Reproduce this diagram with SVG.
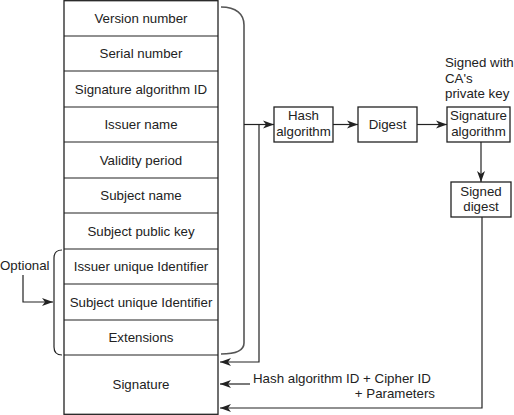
<svg xmlns="http://www.w3.org/2000/svg" width="514" height="415" viewBox="0 0 514 415">
<defs>
<marker id="arr" markerUnits="userSpaceOnUse" markerWidth="12" markerHeight="10" viewBox="0 0 12 10" refX="11" refY="5" orient="auto">
<path d="M0,1 L11,5 L0,9 L3,5 Z" fill="#222"/>
</marker>
</defs>
<style>
text{font-family:"Liberation Sans",Arial,sans-serif;font-size:13.3px;fill:#222}
.c{text-anchor:middle}
.box{fill:#fff;stroke:#222;stroke-width:1.3}
.ln{fill:none;stroke:#222;stroke-width:1.2}
.br{fill:none;stroke:#555;stroke-width:1.6}
</style>
<g id="certificate">
<rect class="box" x="64" y="0.7" width="154" height="413.6"/>
<path class="ln" d="M64,36H218M64,71H218M64,107H218M64,142H218M64,178H218M64,213H218M64,249H218M64,284H218M64,320H218M64,355H218"/>
<text class="c" x="141" y="23">Version number</text>
<text class="c" x="141" y="58">Serial number</text>
<text class="c" x="141" y="94">Signature algorithm ID</text>
<text class="c" x="141" y="129">Issuer name</text>
<text class="c" x="141" y="165">Validity period</text>
<text class="c" x="141" y="200">Subject name</text>
<text class="c" x="141" y="236">Subject public key</text>
<text class="c" x="141" y="271">Issuer unique Identifier</text>
<text class="c" x="141" y="307">Subject unique Identifier</text>
<text class="c" x="141" y="342">Extensions</text>
<text class="c" x="141" y="389">Signature</text>
</g>
<g id="hash">
<rect class="box" x="274" y="107" width="59" height="35"/>
<text class="c" x="303.5" y="120">Hash</text>
<text class="c" x="303.5" y="135.5">algorithm</text>
</g>
<g id="digest">
<rect class="box" x="358" y="107" width="59" height="35"/>
<text class="c" x="387.5" y="129">Digest</text>
</g>
<g id="sigalg">
<rect class="box" x="447" y="107" width="63" height="35"/>
<text class="c" x="478.5" y="120">Signature</text>
<text class="c" x="478.5" y="135.5">algorithm</text>
</g>
<g id="signedwith">
<text x="445" y="67">Signed with</text>
<text x="445" y="82.5">CA's</text>
<text x="445" y="98">private key</text>
</g>
<g id="signeddigest">
<rect class="box" x="451" y="182" width="60" height="35"/>
<text class="c" x="481" y="195.5">Signed</text>
<text class="c" x="481" y="211">digest</text>
</g>
<g id="optional">
<text x="0" y="270">Optional</text>
</g>
<g id="params">
<text x="253" y="383">Hash algorithm ID + Cipher ID</text>
<text x="435" y="398" text-anchor="end">+ Parameters</text>
</g>
<g id="connectors">
<path class="br" d="M221,7 C236,7 244,14 244,25 V343 C244,350 236,354 221,354"/>
<path class="ln" d="M62,250 C57,250 54,253 54,258 V347 C54,352 57,355 62,355"/>
<path class="ln" d="M244,124.5 H274" marker-end="url(#arr)"/>
<path class="ln" d="M259,124.5 V362 H220" marker-end="url(#arr)"/>
<path class="ln" d="M333,124.5 H358" marker-end="url(#arr)"/>
<path class="ln" d="M417,124.5 H447" marker-end="url(#arr)"/>
<path class="ln" d="M481,142 V182" marker-end="url(#arr)"/>
<path class="ln" d="M482,217 V408 H220" marker-end="url(#arr)"/>
<path class="ln" d="M250,384 H220" marker-end="url(#arr)"/>
<path class="ln" d="M23,275 V302 H53" marker-end="url(#arr)"/>
</g>
</svg>
